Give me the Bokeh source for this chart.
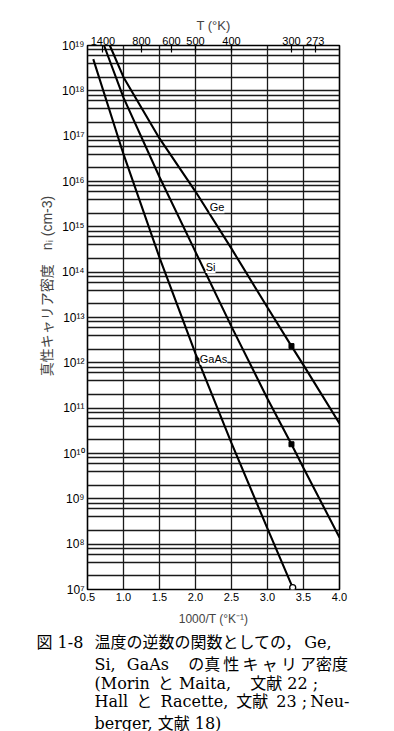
from bokeh.plotting import figure
from bokeh.models import (Range1d, FixedTicker, LinearAxis, CustomJSTickFormatter,
                          NumeralTickFormatter, Label, Title)
from bokeh.embed import file_html
from bokeh.resources import INLINE

# ---- data ----
inv_t_ge = [0.81, 1.0, 1.5, 2.0, 2.5, 3.0, 3.333, 3.5, 4.0]
ni_ge = [1.0e19, 2.0e18, 8.9e16, 6.0e15, 3.3e14, 1.66e13, 2.34e12, 8.9e11, 4.6e10]

inv_t_si = [0.73, 1.0, 1.5, 2.0, 2.5, 3.0, 3.333, 3.5, 4.0]
ni_si = [1.0e19, 7.1e17, 1.26e16, 2.8e14, 6.3e12, 1.62e11, 1.6e10, 4.8e9, 1.4e8]

inv_t_gaas = [0.58, 1.0, 1.5, 2.0, 2.5, 3.0, 3.35]
ni_gaas = [5.0e18, 4.0e16, 2.1e14, 1.6e12, 1.7e10, 2.2e8, 1.1e7]

mark_x = [3.333, 3.333]
mark_y = [2.34e12, 1.6e10]
gaas_mark_x = [3.35]
gaas_mark_y = [1.1e7]
gaas_dot_x = [2.03]
gaas_dot_y = [1.2e12]

curve_names = ["Ge", "Si", "GaAs"]
curve_label_x = [2.30, 2.21, 2.25]
curve_label_y = [2.7e15, 1.3e14, 1.23e12]

x_ticks = [0.5, 1.0, 1.5, 2.0, 2.5, 3.0, 3.5, 4.0]
y_ticks = [1e7, 1e8, 1e9, 1e10, 1e11, 1e12, 1e13, 1e14, 1e15, 1e16, 1e17, 1e18, 1e19]
y_minor_mult = [2, 4, 6, 8]
temp_ticks = [1400, 800, 600, 500, 400, 300, 273]

y_title = "真性キャリア密度\u2003nᵢ (cm-3)"
TS = "\u2009"   # thin space used for letter spacing in the caption
caption_lines = [
    "図 1-8\u2002" + TS + "温度の逆数の関数としての，" + TS + "Ge,",
    "Si,\u2002" + TS + "GaAs\u3000" + TS + "の真" + TS + "性" + TS + "キ" + TS + "ャ" + TS + "リ" + TS + "ア密度",
    "(Morin\u2002と Maita,\u3000" + TS + "文献 22 ;",
    "Hall\u2002と " + TS + "Racette,\u2002文献\u200223 ;" + TS + "Neu-",
    "berger, 文献 18)",
]
caption_offsets = [-51, 7, 7, 7, 7]
caption_standoffs = [4, -2, -2, -4, 6]

FONT = "Liberation Sans"
CAP_FONT = "DejaVu Serif, Noto Sans CJK JP"
y_minor = [m * t for t in y_ticks[:-1] for m in y_minor_mult]

p = figure(frame_width=252, frame_height=544, output_backend="svg", toolbar_location=None,
           x_range=Range1d(0.5, 4.0), y_range=Range1d(1e7, 1e19), y_axis_type="log",
           min_border_left=87, min_border_right=47, min_border_top=45, min_border_bottom=0)
p.background_fill_color = "white"
p.border_fill_color = "white"
p.outline_line_color = "black"
p.outline_line_width = 1.6

# grid
p.xgrid.ticker = FixedTicker(ticks=x_ticks)
p.ygrid.ticker = FixedTicker(ticks=y_ticks, minor_ticks=y_minor)
for g in (p.xgrid, p.ygrid):
    g.grid_line_color = "#1a1a1a"
    g.grid_line_width = 1.3
p.ygrid.minor_grid_line_color = "#1a1a1a"
p.ygrid.minor_grid_line_width = 1.3

# bottom axis
xa = p.xaxis[0]
xa.ticker = FixedTicker(ticks=x_ticks)
xa.formatter = NumeralTickFormatter(format="0.0")
xa.major_tick_in = 0
xa.major_tick_out = 0
xa.minor_tick_in = 0
xa.minor_tick_out = 0
xa.axis_line_color = None
xa.major_label_standoff = 3
xa.major_label_text_font = FONT
xa.major_label_text_font_size = "11px"
xa.major_label_text_color = "black"
xa.axis_label = "1000/T (°K⁻¹)"
xa.axis_label_text_font = FONT
xa.axis_label_text_font_style = "normal"
xa.axis_label_text_font_size = "12px"
xa.axis_label_standoff = 8

# left axis
ya = p.yaxis[0]
ya.ticker = FixedTicker(ticks=y_ticks)
ya.formatter = CustomJSTickFormatter(code="""
const sup = {'0':'\u2070','1':'\u00b9','2':'\u00b2','3':'\u00b3','4':'\u2074',
             '5':'\u2075','6':'\u2076','7':'\u2077','8':'\u2078','9':'\u2079'};
const e = Math.round(Math.log10(tick));
return '10' + String(e).split('').map(c => sup[c]).join('');
""")
ya.major_tick_in = 0
ya.major_tick_out = 0
ya.minor_tick_in = 0
ya.minor_tick_out = 0
ya.axis_line_color = None
ya.major_label_standoff = 3
ya.major_label_text_font = FONT
ya.major_label_text_font_size = "12px"
ya.major_label_text_color = "black"
ya.axis_label = "\u3000" * 4 + "\u2002" + y_title
ya.axis_label_text_font = "Liberation Sans, Noto Sans CJK JP"
ya.axis_label_text_font_style = "normal"
ya.axis_label_text_font_size = "14px"
ya.axis_label_standoff = 4

# top axis: temperature
ta = LinearAxis(ticker=FixedTicker(ticks=[1000.0 / t for t in temp_ticks]),
                formatter=CustomJSTickFormatter(code="return String(Math.round(1000 / tick));"))
ta.major_tick_in = 7
ta.major_tick_out = 0
ta.major_tick_line_color = "black"
ta.major_tick_line_width = 1.2
ta.minor_tick_in = 0
ta.minor_tick_out = 0
ta.axis_line_color = None
ta.major_label_standoff = 1
ta.major_label_text_font = FONT
ta.major_label_text_font_size = "11px"
ta.major_label_text_color = "black"
ta.axis_label = "T (°K)"
ta.axis_label_text_font = FONT
ta.axis_label_text_font_style = "normal"
ta.axis_label_text_font_size = "13px"
ta.axis_label_standoff = 1
p.add_layout(ta, "above")

# curves
for xs, ys in ((inv_t_ge, ni_ge), (inv_t_si, ni_si), (inv_t_gaas, ni_gaas)):
    p.line(xs, ys, line_color="black", line_width=2.1)

p.scatter(mark_x, mark_y, marker="square", size=5, color="black")
p.scatter(gaas_mark_x, gaas_mark_y, marker="circle", size=6, fill_color="white",
          line_color="black", line_width=1.3)
p.scatter(gaas_dot_x, gaas_dot_y, marker="circle", size=3, color="black")

for txt, x, y in zip(curve_names, curve_label_x, curve_label_y):
    p.add_layout(Label(x=x, y=y, text=txt, text_font=FONT, text_font_size="11px",
                       text_align="center", text_baseline="middle", text_color="black",
                       background_fill_color="white", background_fill_alpha=1.0))

# caption, stacked below the x axis
for txt, off, so in zip(caption_lines, caption_offsets, caption_standoffs):
    p.add_layout(Title(text=txt, align="left", offset=off, standoff=so,
                       text_font=CAP_FONT, text_font_size="16px",
                       text_font_style="normal", text_color="black"), "below")

open("out.html", "w").write(file_html(p, INLINE))
